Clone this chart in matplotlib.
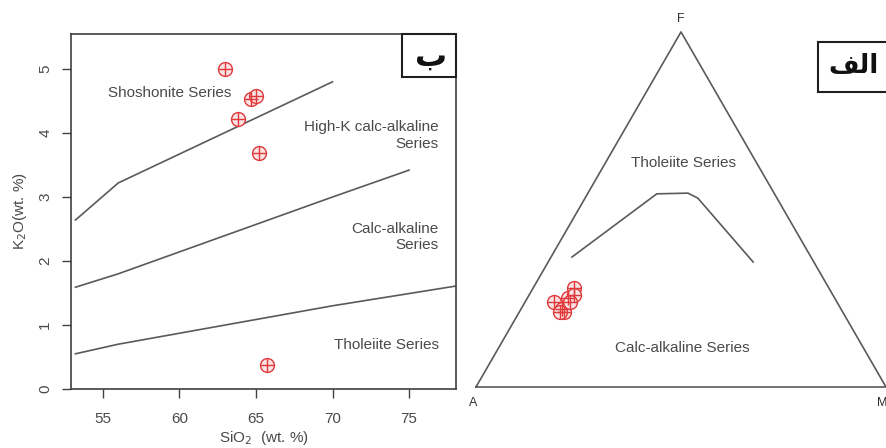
import numpy as np
import matplotlib
matplotlib.use("Agg")
import matplotlib.pyplot as plt
from matplotlib.patches import Rectangle

# ---------------- data ----------------
# K2O vs SiO2 (Peccerillo & Taylor style)
sio2 = [63.0, 64.7, 65.0, 63.8, 65.2, 65.7]
k2o = [5.0, 4.53, 4.58, 4.22, 3.69, 0.38]

shosh_x = [53.2, 56.0, 70.0]
shosh_y = [2.64, 3.22, 4.80]
highk_x = [53.2, 56.0, 63.0, 70.0, 75.0]
highk_y = [1.59, 1.80, 2.40, 3.00, 3.42]
calc_x = [53.2, 56.0, 63.0, 70.0, 78.1]
calc_y = [0.55, 0.70, 1.00, 1.30, 1.61]

x_ticks = [55, 60, 65, 70, 75]
y_ticks = [0, 1, 2, 3, 4, 5]

# AFM ternary (fractions F, A, M)
afm_F = [0.24, 0.22, 0.21, 0.25, 0.28, 0.26, 0.24, 0.21]
afm_A = [0.69, 0.68, 0.68, 0.65, 0.62, 0.63, 0.65, 0.69]
afm_M = [0.07, 0.10, 0.11, 0.10, 0.10, 0.11, 0.11, 0.10]

ib_F = [0.366, 0.544, 0.546, 0.532, 0.352]
ib_A = [0.583, 0.287, 0.210, 0.193, 0.148]
ib_M = [0.051, 0.169, 0.244, 0.275, 0.500]

W, H = 887, 448
fig = plt.figure(figsize=(W / 100, H / 100), dpi=100)
plt.rcParams['font.family'] = ['Liberation Sans', 'DejaVu Sans']

txt_col = '#4a4a4a'
line_col = '#5a5a5a'
red = '#e0393b'
fs = 11


def fx(px):
    return px / W


def fy(py):
    return 1 - py / H


# ---------------- left panel ----------------
ax = fig.add_axes([fx(71), fy(389), fx(456) - fx(71), fy(34) - fy(389)])
ax.set_xlim(52.91, 78.07)
ax.set_ylim(0, 5.547)
for s in ax.spines.values():
    s.set_color('#404040')
    s.set_linewidth(1.2)
ax.set_xticks(x_ticks)
ax.set_yticks(y_ticks)
ax.tick_params(direction='out', length=6.5, width=1, colors='#404040',
               labelsize=fs, labelcolor=txt_col)
ax.tick_params(axis='y', pad=7)
ax.tick_params(axis='x', pad=10)
for lab in ax.get_yticklabels():
    lab.set_rotation(90)
    lab.set_va('center')

ax.plot(shosh_x, shosh_y, color=line_col, lw=1.2)
ax.plot(highk_x, highk_y, color=line_col, lw=1.2)
ax.plot(calc_x, calc_y, color=line_col, lw=1.2)

ax.plot(sio2, k2o, linestyle='none', marker='o', ms=10, mfc='#fbe3e3',
        mec=red, mew=1.0)
ax.plot(sio2, k2o, linestyle='none', marker='+', ms=10, mec=red, mew=1.0)

ax.text(59.37, 4.63, 'Shoshonite Series', ha='center', va='center',
        fontsize=fs, color=txt_col)
ax.text(76.95, 3.96, 'High-K calc-alkaline\nSeries', ha='right', va='center',
        multialignment='right', fontsize=fs, color=txt_col)
ax.text(76.95, 2.37, 'Calc-alkaline\nSeries', ha='right', va='center',
        multialignment='right', fontsize=fs, color=txt_col)
ax.text(76.95, 0.69, 'Tholeiite Series', ha='right', va='center',
        fontsize=fs, color=txt_col)

ax.set_xlabel('SiO$_2$  (wt. %)', fontsize=fs, color=txt_col, labelpad=2)
ax.set_ylabel('K$_2$O(wt. %)', fontsize=fs, color=txt_col, labelpad=7)

# box with Arabic letter (beh)
fig.patches.append(Rectangle((fx(402), fy(77)), fx(456) - fx(402), fy(34) - fy(77),
                             transform=fig.transFigure, fill=True, facecolor='white',
                             edgecolor='#202020', lw=1.5))
fig.text(fx(431), fy(57), '\u0628', ha='center', va='center', fontsize=23,
         fontweight='bold', color='#111111', family=['DejaVu Sans'])

# ---------------- right panel (AFM) ----------------
L = 410.0
x0, y0 = 476.0, 387.0
axl, axr, axb, axt = 466.0, 896.0, 420.0, 10.0
ax2 = fig.add_axes([fx(axl), fy(axb), (axr - axl) / W, (axb - axt) / H])
ax2.set_xlim((axl - x0) / L, (axr - x0) / L)
ax2.set_ylim((y0 - axb) / L, (y0 - axt) / L)
ax2.axis('off')

h = np.sqrt(3) / 2


def tern(F, A, M):
    F = np.asarray(F, float)
    M = np.asarray(M, float)
    return M + F / 2, F * h


tx, ty = tern([0, 0, 1, 0], [1, 0, 0, 1], [0, 1, 0, 0])
ax2.plot(tx, ty, color=line_col, lw=1.2, clip_on=False)

lx, ly = tern(ib_F, ib_A, ib_M)
ax2.plot(lx, ly, color=line_col, lw=1.2)

px, py = tern(afm_F, afm_A, afm_M)
ax2.plot(px, py, linestyle='none', marker='o', ms=10, mfc='#fbe3e3',
         mec=red, mew=1.0)
ax2.plot(px, py, linestyle='none', marker='+', ms=10, mec=red, mew=1.0)

ax2.text(0.505, 0.546, 'Tholeiite Series', ha='center', va='center',
         fontsize=fs, color=txt_col)
ax2.text(0.502, 0.095, 'Calc-alkaline Series', ha='center', va='center',
         fontsize=fs, color=txt_col)
ax2.text(-0.007, -0.039, 'A', ha='center', va='center', fontsize=9, color='#303030')
ax2.text(0.5, 0.898, 'F', ha='center', va='center', fontsize=9, color='#303030')
ax2.text(0.99, -0.039, 'M', ha='center', va='center', fontsize=9, color='#303030')

# box with Arabic word (alef)
fig.patches.append(Rectangle((fx(818), fy(92)), fx(900) - fx(818), fy(42) - fy(92),
                             transform=fig.transFigure, fill=True, facecolor='white',
                             edgecolor='#202020', lw=1.5))
fig.text(fx(828), fy(66), '\uFED2\uFEDF\uFE8D', ha='left', va='center', fontsize=19,
         fontweight='bold', color='#111111', family=['DejaVu Sans'])

fig.savefig('out.png', dpi=100)
